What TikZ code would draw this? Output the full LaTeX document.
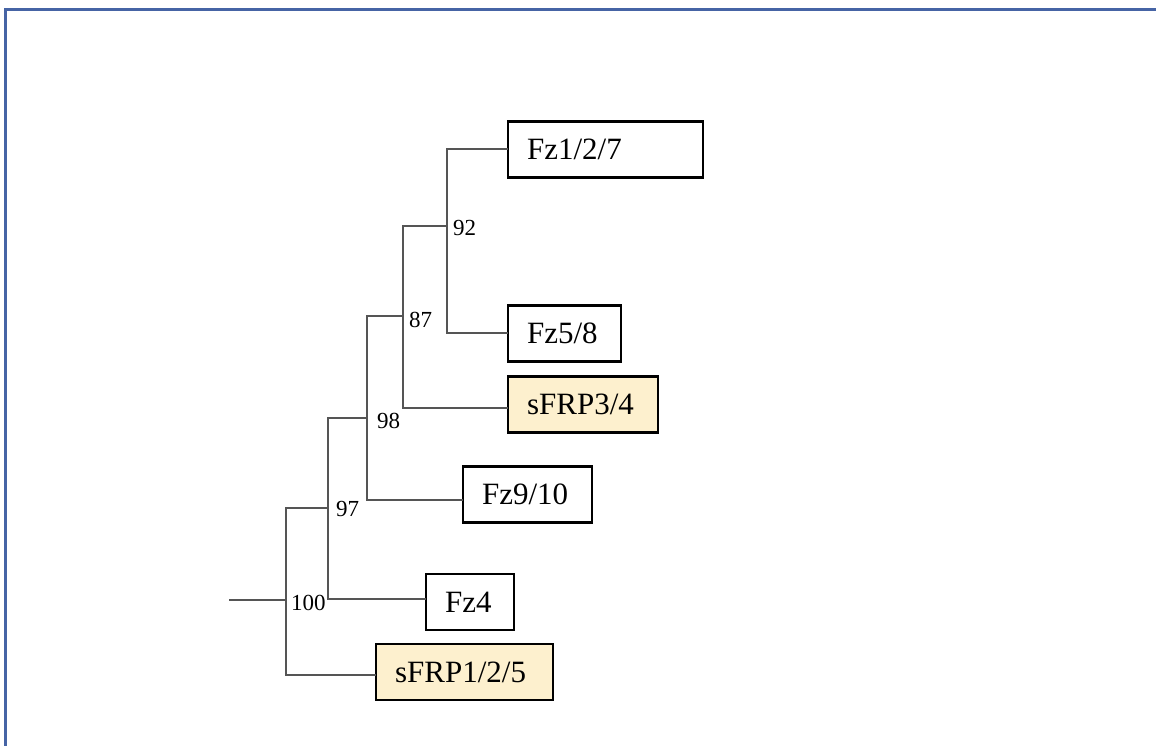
\documentclass[tikz,border=0pt]{standalone}
\usepackage{fontspec}
\setmainfont{Liberation Serif}
\definecolor{framecol}{RGB}{70,100,165}
\definecolor{leafyellow}{RGB}{253,240,206}
\definecolor{treegray}{RGB}{85,85,85}
\tikzset{
  leaf/.style={draw=black, line width=2.2pt, anchor=west, minimum height=56pt,
    inner xsep=19pt, inner ysep=0pt, align=left, text width=#1,
    font=\fontsize{31}{34}\selectfont},
  leafy/.style={leaf=#1, fill=leafyellow},
  branch/.style={draw=treegray, line width=1.4pt, line cap=rect},
  support/.style={anchor=west, inner sep=0pt, font=\fontsize{23}{25}\selectfont},
  frameline/.style={draw=framecol, line width=3pt}
}
\begin{document}
\begin{tikzpicture}[x=1pt,y=-1pt]
\useasboundingbox (0,0) rectangle (1156,746);
% frame
\coordinate (fA) at (5,746);
\coordinate (fB) at (5,9.5);
\coordinate (fC) at (1156,9.5);
\draw[frameline] (fA) -- (fB) -- (fC);

% leaves
\node[leaf=157pt]  (fz127) at (507,149.5) {Fz1/2/7};
\node[leaf=75pt]   (fz58)  at (507,333.5) {Fz5/8};
\node[leafy=112pt] (sfrp34) at (507,404.5) {sFRP3/4};
\node[leaf=91pt]   (fz910) at (462,494.5) {Fz9/10};
\node[leaf=50pt]   (fz4)   at (425,602) {Fz4};
\node[leafy=139pt] (sfrp125) at (375,672) {sFRP1/2/5};

% junction coordinates
\coordinate (r0) at (230,600);
\coordinate (j1t) at (286,508);
\coordinate (j1m) at (286,600);
\coordinate (j1b) at (286,675);
\coordinate (j2t) at (328,418);
\coordinate (j2m) at (328,508);
\coordinate (j2b) at (328,599);
\coordinate (j3t) at (367,316);
\coordinate (j3m) at (367,418);
\coordinate (j3b) at (367,500);
\coordinate (j4t) at (403,226);
\coordinate (j4m) at (403,316);
\coordinate (j4b) at (403,408);
\coordinate (j5t) at (447,149);
\coordinate (j5m) at (447,226);
\coordinate (j5b) at (447,333);

% branches
\draw[branch] (r0) -- (j1m);
\draw[branch] (j2m) -- (j1t) -- (j1b) -- (j1b -| sfrp125.west);
\draw[branch] (j3m) -- (j2t) -- (j2b) -- (j2b -| fz4.west);
\draw[branch] (j4m) -- (j3t) -- (j3b) -- (j3b -| fz910.west);
\draw[branch] (j5m) -- (j4t) -- (j4b) -- (j4b -| sfrp34.west);
\draw[branch] (j5t -| fz127.west) -- (j5t) -- (j5b) -- (j5b -| fz58.west);

% support values
\node[support] (s100) at (291,603) {100};
\node[support] (s97)  at (336,509) {97};
\node[support] (s98)  at (377,421) {98};
\node[support] (s87)  at (409,320) {87};
\node[support] (s92)  at (453,228) {92};
\end{tikzpicture}
\end{document}
